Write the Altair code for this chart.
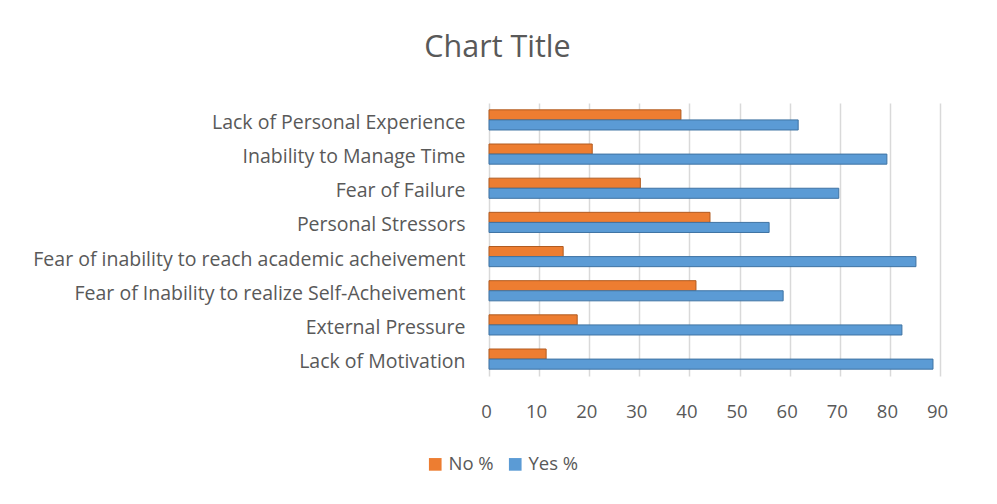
import altair as alt
import pandas as pd

categories = [
    "Lack of Personal Experience ",
    "Inability to Manage Time",
    "Fear of Failure",
    "Personal Stressors",
    "Fear of inability to reach academic acheivement",
    "Fear of Inability to realize Self-Acheivement",
    "External Pressure",
    "Lack of Motivation",
]
no_pct = [38.3, 20.6, 30.2, 44.1, 14.8, 41.3, 17.6, 11.4]
yes_pct = [61.7, 79.4, 69.8, 55.9, 85.2, 58.7, 82.4, 88.6]
series = ["No %", "Yes %"]
colors = ["#ED7D31", "#5B9BD5"]
strokes = ["#B15B20", "#3F73A3"]
x_ticks = [0, 10, 20, 30, 40, 50, 60, 70, 80, 90]

rows = []
for c, n, y in zip(categories, no_pct, yes_pct):
    rows.append({"cat": c, "series": series[0], "value": n})
    rows.append({"cat": c, "series": series[1], "value": y})
df = pd.DataFrame(rows)

font = "Open Sans"
grey = "#595959"

chart = (
    alt.Chart(df)
    .mark_bar(strokeWidth=1)
    .encode(
        x=alt.X(
            "value:Q",
            scale=alt.Scale(domain=[0, 90], nice=False),
            axis=alt.Axis(
                values=x_ticks,
                title=None,
                grid=True,
                gridColor="#d9d9d9",
                gridWidth=1.5,
                domain=False,
                ticks=False,
                labelFlush=False,
                labelOffset=-3,
                labelPadding=26,
                labelFontSize=18.5,
                labelColor=grey,
                labelFont=font,
            ),
        ),
        y=alt.Y(
            "cat:N",
            sort=categories,
            scale=alt.Scale(paddingInner=0.41, paddingOuter=0.2),
            axis=alt.Axis(
                title=None,
                domain=False,
                ticks=False,
                labelPadding=24,
                labelOffset=3,
                labelFontSize=19.5,
                labelColor=grey,
                labelFont=font,
                labelLimit=600,
            ),
        ),
        yOffset=alt.YOffset("series:N", sort=series),
        color=alt.Color(
            "series:N",
            sort=series,
            scale=alt.Scale(domain=series, range=colors),
            legend=alt.Legend(
                title=None,
                orient="none",
                direction="horizontal",
                legendX=-63,
                legendY=352,
                symbolType="square",
                symbolSize=160,
                symbolStrokeWidth=0,
                labelFontSize=18.5,
                labelColor=grey,
                labelFont=font,
                columnPadding=12,
            ),
        ),
        stroke=alt.Stroke(
            "series:N",
            sort=series,
            scale=alt.Scale(domain=series, range=strokes),
            legend=None,
        ),
    )
    .properties(
        width=451,
        height=273,
        autosize=alt.AutoSizeParams(type="none"),
        padding={"left": 481, "top": 95, "right": 49, "bottom": 110},
        title=alt.TitleParams(
            "Chart Title",
            fontSize=30.5,
            font=font,
            color=grey,
            fontWeight="normal",
            anchor="middle",
            dx=-217,
            offset=40,
        ),
    )
    .configure_view(stroke=None)
)

chart.save("out.html", embed_options={"renderer": "svg", "actions": False})
